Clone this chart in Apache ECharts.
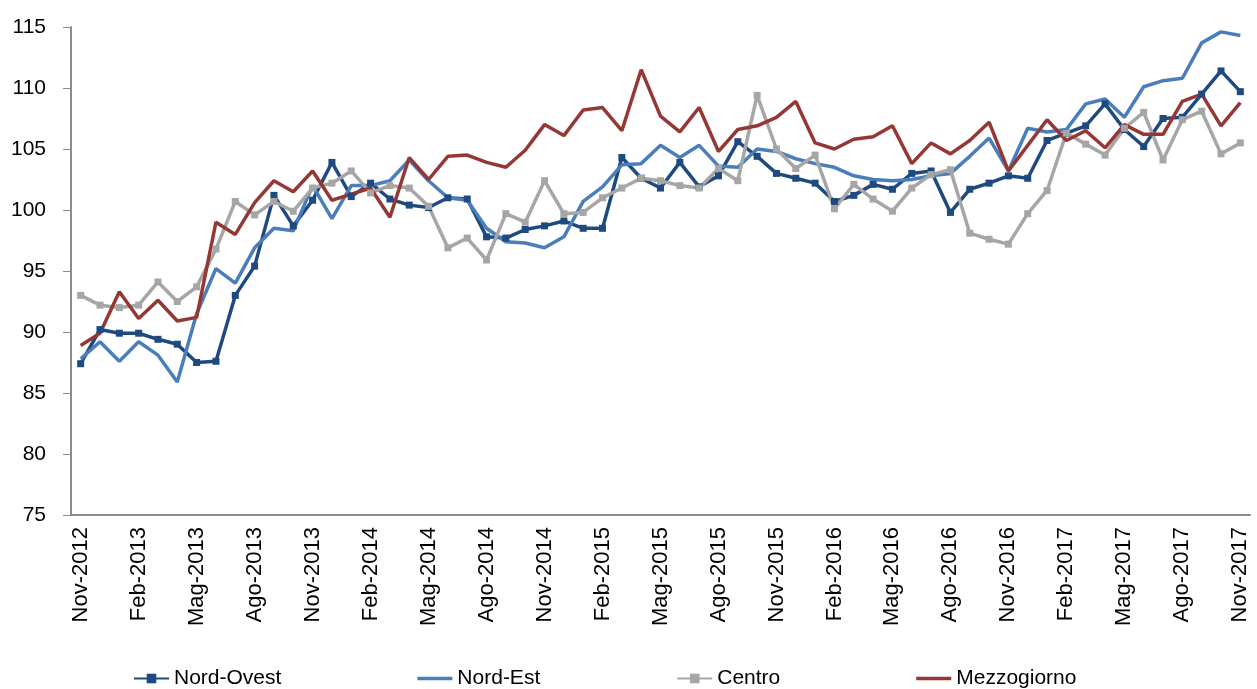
<!DOCTYPE html>
<html>
<head>
<meta charset="utf-8">
<script src="https://cdn.jsdelivr.net/npm/echarts@6/dist/echarts.min.js"></script>
<style>
  html, body { margin: 0; padding: 0; background: #fff; }
  #chart { width: 1257px; height: 689px; }
</style>
</head>
<body>
<div id="chart"></div>
<script>
// Monthly categories, Nov-2012 .. Nov-2017
const monthNames = ['Gen','Feb','Mar','Apr','Mag','Giu','Lug','Ago','Set','Ott','Nov','Dic'];
const categories = [];
for (let k = 0; k <= 60; k++) {
  const m = (10 + k) % 12;
  const y = 2012 + Math.floor((10 + k) / 12);
  categories.push(monthNames[m] + '-' + y);
}

const nordOvest = [
  87.4, 90.2, 89.9, 89.9, 89.4, 89.0, 87.5, 87.6, 93.0, 95.4,
  101.2, 98.7, 100.8, 103.9, 101.1, 102.2, 100.9, 100.4, 100.2, 101.0,
  100.9, 97.8, 97.7, 98.4, 98.7, 99.1, 98.5, 98.5, 104.3, 102.6,
  101.8, 103.9, 101.9, 102.8, 105.6, 104.4, 103.0, 102.6, 102.2, 100.7,
  101.2, 102.1, 101.7, 103.0, 103.2, 99.8, 101.7, 102.2, 102.8, 102.6,
  105.7, 106.3, 106.9, 108.7, 106.6, 105.2, 107.5, 107.6, 109.5, 111.4,
  109.7
];
const nordEst = [
  87.8, 89.2, 87.6, 89.2, 88.1, 85.9, 91.5, 95.2, 94.0, 96.9,
  98.5, 98.3, 102.0, 99.3, 102.0, 102.0, 102.4, 104.1, 102.4, 101.0,
  100.8, 98.5, 97.4, 97.3, 96.9, 97.8, 100.7, 101.9, 103.7, 103.8,
  105.3, 104.3, 105.3, 103.6, 103.5, 105.0, 104.8, 104.2, 103.8, 103.5,
  102.8, 102.5, 102.4, 102.5, 102.8, 103.0, 104.4, 105.9, 103.2, 106.7,
  106.4, 106.6, 108.7, 109.1, 107.6, 110.1, 110.6, 110.8, 113.7, 114.6,
  114.3
];
const centro = [
  93.0, 92.2, 92.0, 92.2, 94.1, 92.5, 93.7, 96.8, 100.7, 99.6,
  100.7, 99.9, 101.8, 102.2, 103.2, 101.4, 102.0, 101.8, 100.3, 96.9,
  97.7, 95.9, 99.7, 99.0, 102.4, 99.7, 99.8, 101.0, 101.8, 102.6,
  102.4, 102.0, 101.8, 103.4, 102.4, 109.4, 105.0, 103.4, 104.5, 100.1,
  102.1, 100.9, 99.9, 101.8, 102.9, 103.3, 98.1, 97.6, 97.2, 99.7,
  101.6, 106.3, 105.4, 104.5, 106.7, 108.0, 104.1, 107.4, 108.1, 104.6,
  105.5
];
const mezzogiorno = [
  88.9, 89.9, 93.3, 91.1, 92.6, 90.9, 91.2, 99.0, 98.0, 100.6,
  102.4, 101.5, 103.2, 100.8, 101.3, 101.8, 99.4, 104.3, 102.5, 104.4,
  104.5, 103.9, 103.5, 104.9, 107.0, 106.1, 108.2, 108.4, 106.5, 111.5,
  107.7, 106.4, 108.4, 104.8, 106.6, 106.9, 107.6, 108.9, 105.5, 105.0,
  105.8, 106.0, 106.9, 103.8, 105.5, 104.6, 105.7, 107.2, 103.2, 105.3,
  107.4, 105.7, 106.5, 105.1, 107.0, 106.2, 106.2, 108.9, 109.5, 106.9,
  108.8
];

const yTicks = { min: 75, max: 115, step: 5 };

const font = "'Liberation Sans', Arial, sans-serif";
const axisGrey = '#8c8c8c';
// plain line swatch for the series drawn without markers
const lineIcon = 'path://M0 0 L35 0 L35 3.5 L0 3.5 Z';

const chart = echarts.init(document.getElementById('chart'), null, { renderer: 'canvas' });

function lineSeries(name, data, color, withMarker) {
  return {
    name: name,
    type: 'line',
    data: data,
    symbol: withMarker ? 'rect' : 'none',
    symbolSize: 7,
    showSymbol: withMarker,
    lineStyle: { color: color, width: 3.5 },
    itemStyle: { color: color },
    emphasis: { disabled: true },
    animation: false
  };
}

chart.setOption({
  backgroundColor: '#ffffff',
  animation: false,
  grid: { left: 71, right: 7, top: 27, bottom: 174, containLabel: false },
  legend: {
    left: 128,
    top: 663,
    itemWidth: 35,
    itemHeight: 12,
    itemGap: 136,
    textStyle: { fontFamily: font, fontSize: 21, color: '#000' },
    data: [
      { name: 'Nord-Ovest' },
      { name: 'Nord-Est', icon: lineIcon },
      { name: 'Centro' },
      { name: 'Mezzogiorno', icon: lineIcon }
    ]
  },
  xAxis: {
    type: 'category',
    data: categories,
    boundaryGap: true,
    axisLine: { lineStyle: { color: axisGrey, width: 2 } },
    axisTick: { interval: 0, length: 8, lineStyle: { color: axisGrey, width: 1 } },
    axisLabel: {
      interval: 2,
      rotate: 90,
      margin: 12,
      fontFamily: font,
      fontSize: 22,
      color: '#000'
    },
    splitLine: { show: false }
  },
  yAxis: {
    type: 'value',
    min: yTicks.min,
    max: yTicks.max,
    interval: yTicks.step,
    axisLine: { show: true, lineStyle: { color: axisGrey, width: 2 } },
    axisTick: { show: true, length: 8, lineStyle: { color: axisGrey, width: 1 } },
    axisLabel: { margin: 25, fontFamily: font, fontSize: 21, color: '#000' },
    splitLine: { show: false }
  },
  series: [
    lineSeries('Nord-Ovest', nordOvest, '#1f4a80', true),
    lineSeries('Nord-Est', nordEst, '#4a7ebb', false),
    lineSeries('Centro', centro, '#a6a6a6', true),
    lineSeries('Mezzogiorno', mezzogiorno, '#953735', false)
  ]
});
</script>
</body>
</html>
